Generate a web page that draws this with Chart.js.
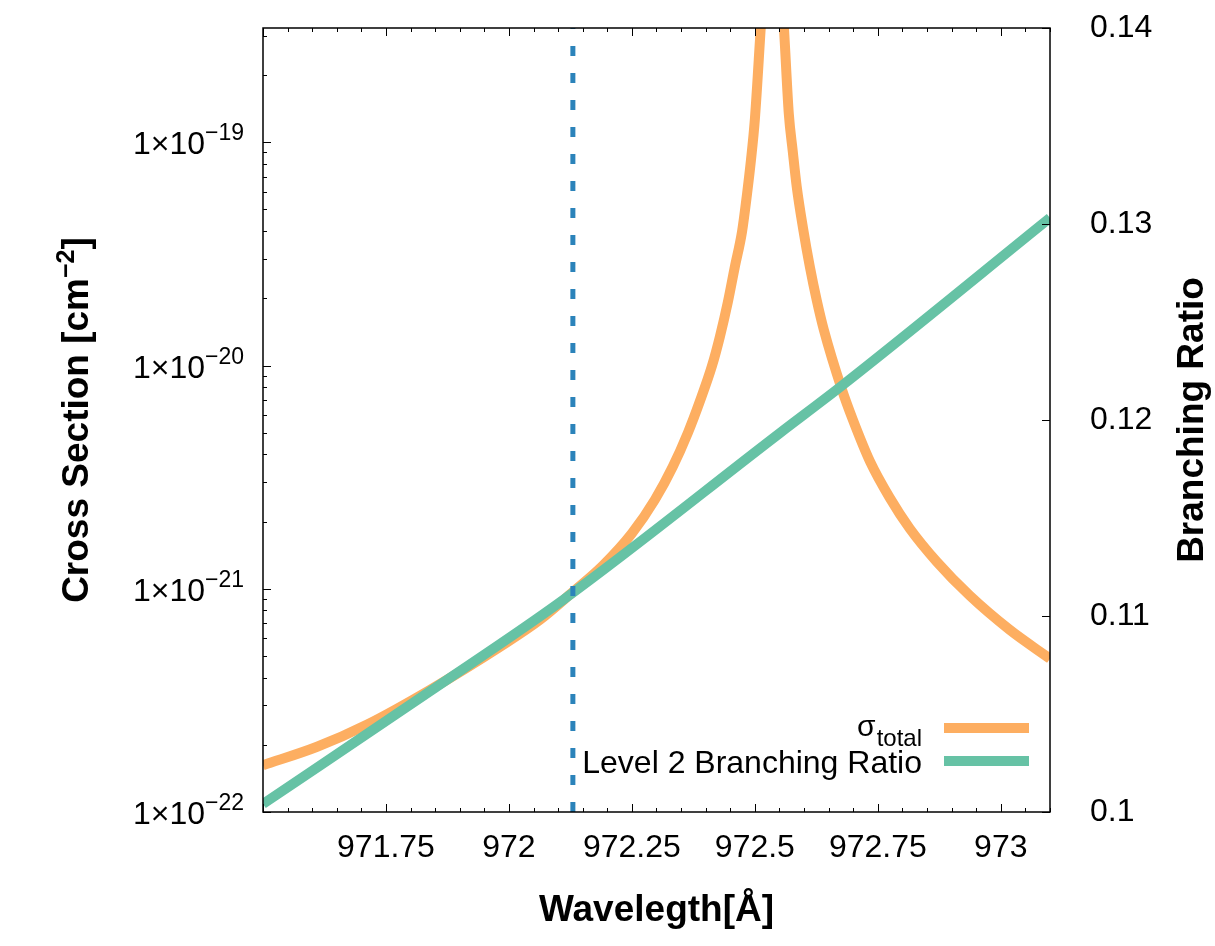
<!DOCTYPE html>
<html lang="en">
<head>
<meta charset="UTF-8" />
<title>Cross Section and Branching Ratio</title>
<script src="https://cdn.jsdelivr.net/npm/chart.js"></script>
<style>
    body { margin: 0; background: #fff; }
    #chart { display: block; }
</style>
</head>
<body>
<canvas id="chart" width="1215" height="946"></canvas>
<script>
    // axis ticks
    const wavelengthTicks = [971.75, 972, 972.25, 972.5, 972.75, 973];
    const branchingTicks = [0.1, 0.11, 0.12, 0.13, 0.14];
    const crossSectionTicks = [1e-22, 1e-21, 1e-20, 1e-19];
    const crossSectionExp = ["\u221222", "\u221221", "\u221220", "\u221219"];

    // sigma_total (cm^-2)
    const sigmaWavelength = [971.5, 971.61, 971.711, 971.839, 971.982, 972.063, 972.128, 972.191, 972.25,
        972.297, 972.333, 972.364, 972.388, 972.413, 972.429, 972.445, 972.459, 972.474, 972.484, 972.492, 972.5,
        972.512, 972.535, 972.559, 972.569, 972.577, 972.585, 972.598, 972.612, 972.626, 972.64, 972.677, 972.699,
        972.734, 972.774, 972.815, 972.87, 972.937, 973.018, 973.1];
    const sigmaTotal = [1.62e-22, 1.96e-22, 2.46e-22, 3.52e-22, 5.5e-22, 7.26e-22, 9.59e-22, 1.27e-21, 1.77e-21,
        2.51e-21, 3.52e-21, 5.01e-21, 6.9e-21, 1.0e-20, 1.35e-20, 1.92e-20, 2.75e-20, 3.99e-20, 5.85e-20, 8.3e-20, 1.27e-19,
        3.28e-19, 2e-18, 3.28e-19, 1.34e-19, 9.12e-20, 6.35e-20, 4.11e-20, 2.75e-20, 1.95e-20, 1.45e-20, 7.8e-21, 5.73e-21,
        3.72e-21, 2.56e-21, 1.86e-21, 1.32e-21, 9.31e-22, 6.55e-22, 4.86e-22];

    // level 2 branching ratio
    const ratioWavelength = [971.5, 971.843, 972.11, 972.551, 972.679, 973.1];
    const branchingRatio = [0.10041, 0.10622, 0.11082, 0.11934, 0.12179, 0.13031];

    const markerWavelength = 972.13;

    const X_MIN = 971.5, X_MAX = 973.1;
    const Y_MIN = 1e-22, Y_MAX = 3.25e-19;
    const FONT = '"Liberation Sans", Arial, Helvetica, sans-serif';

    const toPoints = (xs, ys) => xs.map((x, i) => ({ x: x, y: ys[i] }));

    // keep the plot box exactly where the reference has it
    const noPad = (s) => {
        s.paddingTop = 0;
        s.paddingBottom = 0;
        s.paddingLeft = 0;
        s.paddingRight = 0;
    };

    // border box, inward tick marks, custom labels and key
    const decorations = {
        id: "decorations",
        afterDatasetsDraw(chart) {
            const { ctx, chartArea: a, scales } = chart;
            ctx.save();
            ctx.strokeStyle = "#000";
            ctx.lineWidth = 1;
            ctx.beginPath();
            // x ticks, bottom and top
            for (let i = 0; i <= 32; i++) {
                const v = X_MIN + i * 0.05;
                const px = Math.round(scales.x.getPixelForValue(v)) + 0.5;
                const len = i % 5 === 0 ? 8 : 4;
                ctx.moveTo(px, a.bottom);
                ctx.lineTo(px, a.bottom - len);
                ctx.moveTo(px, a.top);
                ctx.lineTo(px, a.top + len);
            }
            // log ticks, left
            for (let d = -22; d <= -19; d++) {
                for (let m = 1; m <= 9; m++) {
                    const v = m * Math.pow(10, d);
                    if (v > Y_MAX) continue;
                    const py = Math.round(scales.y.getPixelForValue(v)) + 0.5;
                    ctx.moveTo(a.left, py);
                    ctx.lineTo(a.left + (m === 1 ? 8 : 4), py);
                }
            }
            // right ticks
            branchingTicks.forEach((v) => {
                const py = Math.round(scales.y2.getPixelForValue(v)) + 0.5;
                ctx.moveTo(a.right, py);
                ctx.lineTo(a.right - 8, py);
            });
            ctx.stroke();
            ctx.lineWidth = 1.5;
            ctx.strokeRect(a.left, a.top, a.right - a.left, a.bottom - a.top);
            ctx.restore();
        },
        afterDraw(chart) {
            const { ctx, chartArea: a, scales } = chart;
            ctx.save();
            ctx.fillStyle = "#000";

            // left tick labels 1x10^n
            crossSectionTicks.forEach((v, i) => {
                const py = scales.y.getPixelForValue(v);
                ctx.font = "23px " + FONT;
                const we = ctx.measureText(crossSectionExp[i]).width;
                ctx.textAlign = "right";
                ctx.textBaseline = "alphabetic";
                ctx.fillText(crossSectionExp[i], 244, py - 2);
                ctx.font = "32px " + FONT;
                ctx.fillText("1\u00d710", 244 - we, py + 12);
            });

            // axis titles
            ctx.font = "bold 37px " + FONT;
            ctx.textAlign = "center";
            ctx.textBaseline = "middle";
            ctx.fillText("Wavelegth[\u00c5]", (a.left + a.right) / 2, 911);

            ctx.save();
            ctx.translate(1203, (a.top + a.bottom) / 2);
            ctx.rotate(-Math.PI / 2);
            ctx.textBaseline = "alphabetic";
            ctx.fillText("Branching Ratio", 0, 0);
            ctx.restore();

            ctx.save();
            ctx.translate(88, (a.top + a.bottom) / 2);
            ctx.rotate(-Math.PI / 2);
            ctx.textBaseline = "alphabetic";
            ctx.textAlign = "left";
            const t1 = "Cross Section [cm", t2 = "\u22122", t3 = "]";
            ctx.font = "bold 37px " + FONT;
            const w1 = ctx.measureText(t1).width, w3 = ctx.measureText(t3).width;
            ctx.font = "bold 25px " + FONT;
            const w2 = ctx.measureText(t2).width;
            let x0 = -(w1 + w2 + w3) / 2;
            ctx.font = "bold 37px " + FONT;
            ctx.fillText(t1, x0, 0);
            ctx.font = "bold 25px " + FONT;
            ctx.fillText(t2, x0 + w1, -14);
            ctx.font = "bold 37px " + FONT;
            ctx.fillText(t3, x0 + w1 + w2, 0);
            ctx.restore();

            // key
            const keyRight = 922;
            ctx.textAlign = "right";
            ctx.textBaseline = "alphabetic";
            ctx.font = "24px " + FONT;
            const wt = ctx.measureText("total").width;
            ctx.fillText("total", keyRight, 746);
            ctx.font = "30px " + FONT;
            ctx.fillText("\u03c3", keyRight - wt - 1, 736);
            ctx.font = "32px " + FONT;
            ctx.fillText("Level 2 Branching Ratio", keyRight, 773);

            ctx.lineWidth = 10;
            ctx.lineCap = "butt";
            ctx.strokeStyle = "#fdae61";
            ctx.beginPath();
            ctx.moveTo(944, 728);
            ctx.lineTo(1029, 728);
            ctx.stroke();
            ctx.strokeStyle = "#66c2a5";
            ctx.beginPath();
            ctx.moveTo(944, 761);
            ctx.lineTo(1029, 761);
            ctx.stroke();
            ctx.restore();
        },
    };

    new Chart(document.getElementById("chart"), {
        type: "scatter",
        data: {
            datasets: [
                {
                    label: "\u03c3total",
                    data: toPoints(sigmaWavelength, sigmaTotal),
                    yAxisID: "y",
                    showLine: true,
                    borderColor: "#fdae61",
                    borderWidth: 10,
                    pointRadius: 0,
                    cubicInterpolationMode: "monotone",
                    clip: 0,
                    order: 3,
                },
                {
                    label: "Level 2 Branching Ratio",
                    data: toPoints(ratioWavelength, branchingRatio),
                    yAxisID: "y2",
                    showLine: true,
                    borderColor: "#66c2a5",
                    borderWidth: 10,
                    pointRadius: 0,
                    cubicInterpolationMode: "monotone",
                    clip: 0,
                    order: 2,
                },
                {
                    label: "marker",
                    data: [
                        { x: markerWavelength, y: Y_MIN },
                        { x: markerWavelength, y: Y_MAX },
                    ],
                    yAxisID: "y",
                    showLine: true,
                    borderColor: "#2b83ba",
                    borderWidth: 5,
                    borderDash: [10, 17],
                    pointRadius: 0,
                    clip: 0,
                    order: 1,
                },
            ],
        },
        options: {
            responsive: false,
            animation: false,
            layout: { padding: { top: 28, left: 0, right: 0, bottom: 0 } },
            plugins: {
                legend: { display: false },
                tooltip: { enabled: false },
            },
            scales: {
                x: {
                    type: "linear",
                    min: X_MIN,
                    max: X_MAX,
                    grid: { display: false },
                    border: { display: false },
                    afterBuildTicks: (s) => {
                        s.ticks = wavelengthTicks.map((v) => ({ value: v }));
                    },
                    afterFit: (s) => {
                        s.height = 134;
                        noPad(s);
                    },
                    ticks: {
                        autoSkip: false,
                        maxRotation: 0,
                        padding: 9,
                        color: "#000",
                        font: { family: FONT, size: 32 },
                        callback: (v) => String(v),
                    },
                },
                y: {
                    type: "logarithmic",
                    position: "left",
                    min: Y_MIN,
                    max: Y_MAX,
                    grid: { display: false },
                    border: { display: false },
                    ticks: { display: false },
                    afterFit: (s) => {
                        s.width = 263;
                        noPad(s);
                    },
                },
                y2: {
                    type: "linear",
                    position: "right",
                    min: 0.1,
                    max: 0.14,
                    grid: { display: false },
                    border: { display: false },
                    afterBuildTicks: (s) => {
                        s.ticks = branchingTicks.map((v) => ({ value: v }));
                    },
                    afterFit: (s) => {
                        s.width = 165;
                        noPad(s);
                    },
                    ticks: {
                        padding: 32,
                        color: "#000",
                        font: { family: FONT, size: 32 },
                        callback: (v) => String(v),
                    },
                },
            },
        },
        plugins: [decorations],
    });
</script>
</body>
</html>
